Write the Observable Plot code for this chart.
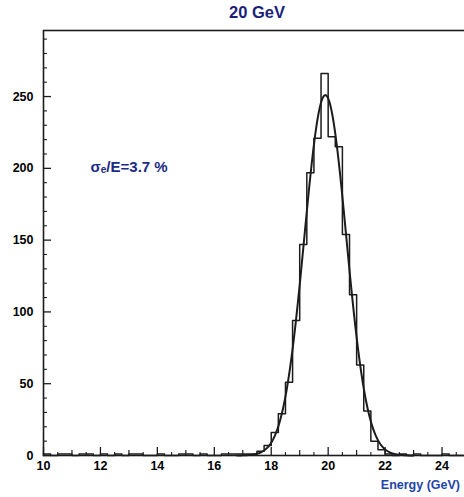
<!DOCTYPE html>
<html>
<head>
<meta charset="utf-8">
<script src="https://cdn.jsdelivr.net/npm/d3@7"></script>
<script src="https://cdn.jsdelivr.net/npm/@observablehq/plot@0.6"></script>
<style>
  html, body { margin: 0; padding: 0; background: #fff; overflow: hidden; }
  #chart { width: 464px; height: 497px; overflow: hidden; }
  #chart svg { max-width: none !important; }
</style>
</head>
<body>
<div id="chart"></div>
<script>
// Energy spectrum of 20 GeV electrons, 0.25 GeV bins from 10 to 25 GeV
const binStart = 10;
const binWidth = 0.25;
const counts = [
  1, 0, 1, 1, 0, 1, 1, 0, 1, 0,
  1, 0, 1, 1, 0, 0, 1, 0, 0, 1,
  1, 0, 1, 0, 0, 1, 1, 1, 1, 1,
  3, 7, 16, 29, 51, 94, 147, 197, 221, 266,
  222, 215, 154, 112, 63, 31, 10, 4, 1, 0,
  1, 0, 1, 0, 0, 0, 1, 0, 0, 0
];

// Gaussian fit: mean, peak height, relative resolution sigma/E
const fitMean = 19.9;
const fitPeak = 251;
const sigmaOverE = 0.037;

// Axis ticks
const xLabelTicks = [10, 12, 14, 16, 18, 20, 22, 24];
const xMidTicks = [11, 13, 15, 17, 19, 21, 23];
const xMinorTicks = d3.range(10.5, 25, 1);
const yLabelTicks = [0, 50, 100, 150, 200, 250];
const yMinorTicks = d3.range(10, 300, 10).filter(v => v % 50 !== 0);

const title = "20 GeV";
const xTitle = "Energy (GeV)";
const note = "σₑ/E=3.7 %";

// Frame geometry
const width = 480, height = 497;
const marginLeft = 43, marginRight = 10, marginTop = 30, marginBottom = 42;
const xDomain = [10, 25];
const yDomain = [0, 296];
const xPerPx = (xDomain[1] - xDomain[0]) / (width - marginLeft - marginRight);
const yPerPx = (yDomain[1] - yDomain[0]) / (height - marginTop - marginBottom);

// Outline of the histogram as a closed step path
const steps = [{x: binStart, y: 0}];
counts.forEach((c, i) => {
  const x1 = binStart + i * binWidth;
  steps.push({x: x1, y: c}, {x: x1 + binWidth, y: c});
});
steps.push({x: binStart + counts.length * binWidth, y: 0});

// Fitted Gaussian sampled along the peak
const sigma = sigmaOverE * fitMean;
const fit = d3.range(16.8, 23.0001, 0.02).map(x => ({
  x, y: fitPeak * Math.exp(-0.5 * ((x - fitMean) / sigma) ** 2)
}));

const ink = "#1c1c1c";

const chart = Plot.plot({
  width, height, marginLeft, marginRight, marginTop, marginBottom,
  style: {
    fontFamily: "'Liberation Sans', Arial, sans-serif",
    fontSize: "12.5px",
    fontWeight: "bold",
    color: "#000",
    background: "#fff",
    overflow: "visible",
    maxWidth: "none"
  },
  x: {domain: xDomain, ticks: xLabelTicks, tickSize: 0, tickPadding: 6, label: null},
  y: {domain: yDomain, ticks: yLabelTicks, tickSize: 0, tickPadding: 10, label: null},
  marks: [
    // inward tick marks
    Plot.ruleX(xLabelTicks, {x: d => d, y1: 0, y2: 8 * yPerPx, stroke: ink, strokeWidth: 1.3}),
    Plot.ruleX(xMidTicks, {x: d => d, y1: 0, y2: 5 * yPerPx, stroke: ink, strokeWidth: 1.2}),
    Plot.ruleX(xMinorTicks, {x: d => d, y1: 0, y2: 3 * yPerPx, stroke: ink, strokeWidth: 1.1}),
    Plot.ruleY(yLabelTicks, {y: d => d, x1: xDomain[0], x2: xDomain[0] + 8 * xPerPx, stroke: ink, strokeWidth: 1.3}),
    Plot.ruleY(yMinorTicks, {y: d => d, x1: xDomain[0], x2: xDomain[0] + 4 * xPerPx, stroke: ink, strokeWidth: 1.1}),
    Plot.frame({stroke: ink, strokeWidth: 1.6}),
    Plot.line(steps, {x: "x", y: "y", stroke: ink, strokeWidth: 1.5}),
    Plot.line(fit, {x: "x", y: "y", stroke: ink, strokeWidth: 2, curve: "linear"}),
    Plot.text([note], {x: 11.65, y: 201, text: d => d, textAnchor: "start",
      fill: "#1b2a86", fontSize: 15, fontWeight: "bold"}),
    Plot.text([title], {frameAnchor: "top", dy: -13, text: d => d,
      fill: "#1b1f7a", fontSize: 16.5, fontWeight: "bold", lineAnchor: "bottom"}),
    Plot.text([xTitle], {x: 21.85, frameAnchor: "bottom", dy: 33, text: d => d,
      textAnchor: "start", fill: "#2244aa", fontSize: 12.5, fontWeight: "bold", lineAnchor: "bottom"})
  ]
});

chart.style.maxWidth = "none";
document.getElementById("chart").appendChild(chart);
</script>
</body>
</html>
